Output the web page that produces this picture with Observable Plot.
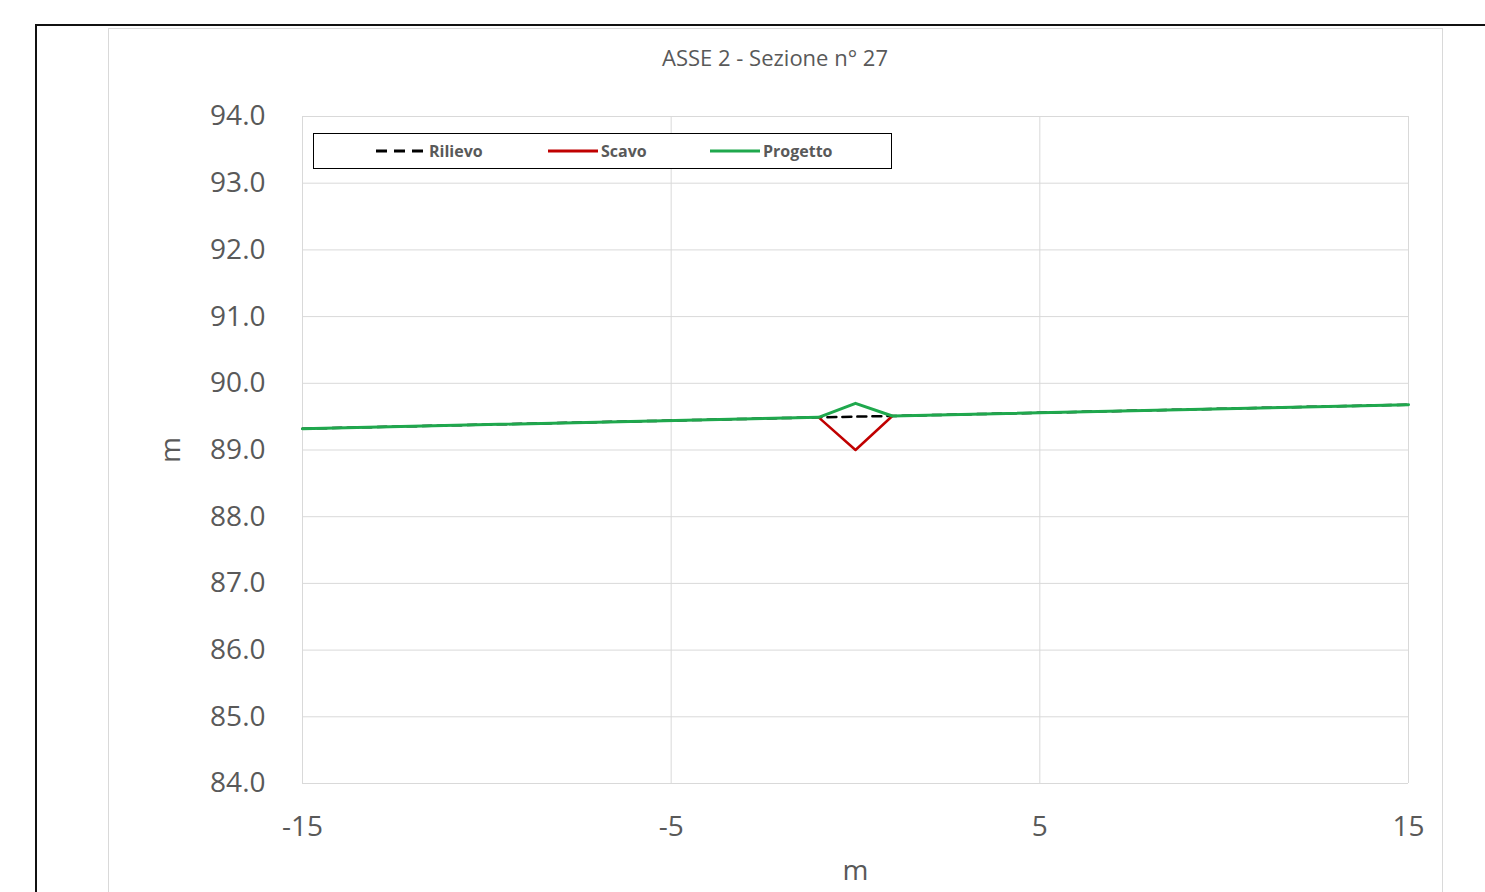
<!DOCTYPE html>
<html>
<head>
<meta charset="utf-8">
<script src="https://cdn.jsdelivr.net/npm/d3@7"></script>
<script src="https://cdn.jsdelivr.net/npm/@observablehq/plot@0.6"></script>
<style>
  html, body { margin: 0; padding: 0; background: #fff; }
  #wrap { position: relative; width: 1485px; height: 892px; overflow: hidden; font-family: "Open Sans", sans-serif; }
  #outer { position: absolute; left: 35px; top: 24px; width: 1500px; height: 900px; border: 2px solid #111; box-sizing: border-box; }
  #inner { position: absolute; left: 108px; top: 28px; width: 1335px; height: 900px; border: 1px solid #d9d9d9; box-sizing: border-box; }
  #chart { position: absolute; left: 0; top: 0; }
  #title { position: absolute; left: 0; width: 1550px; top: 42px; text-align: center; font-size: 22px; color: #595959; }
  #legend { position: absolute; left: 313px; top: 133px; width: 579px; height: 36px; border: 1px solid #000; box-sizing: border-box; background: #fff; }
  .li { position: absolute; top: 0; height: 34px; display: flex; align-items: center; font-size: 16px; font-weight: 700; color: #595959; }
  .li svg { margin-right: 3px; }
</style>
</head>
<body>
<div id="wrap">
  <div id="inner"></div>
  <div id="outer"></div>
  <div id="chart"></div>
  <div id="title"></div>
  <div id="legend"></div>
</div>
<script>
const titleText = "ASSE 2 - Sezione n° 27";
const axisLabelX = "m";
const axisLabelY = "m";
const xTicks = [-15, -5, 5, 15];
const yTicks = [84, 85, 86, 87, 88, 89, 90, 91, 92, 93, 94];

const seriesNames = ["Rilievo", "Scavo", "Progetto"];
const seriesColors = ["#000000", "#c00000", "#1fa84d"];

const rilievoX = [-15, -1, 1, 15];
const rilievoY = [89.32, 89.49, 89.51, 89.68];
const scavoX = [-1, 0, 1];
const scavoY = [89.49, 89.0, 89.51];
const progettoX = [-15, -1, 0, 1, 15];
const progettoY = [89.32, 89.49, 89.70, 89.51, 89.68];

const toRows = (xs, ys) => xs.map((x, i) => ({x, y: ys[i]}));
const rilievo = toRows(rilievoX, rilievoY);
const scavo = toRows(scavoX, scavoY);
const progetto = toRows(progettoX, progettoY);

const plot = Plot.plot({
  width: 1485,
  height: 892,
  marginLeft: 302,
  marginRight: 77,
  marginTop: 116,
  marginBottom: 109,
  style: { fontFamily: "'Open Sans', sans-serif", color: "#595959", background: "transparent" },
  x: { domain: [-15, 15] },
  y: { domain: [84, 94] },
  marks: [
    Plot.gridX(xTicks, { stroke: "#d9d9d9", strokeOpacity: 1, strokeWidth: 1 }),
    Plot.gridY(yTicks, { stroke: "#d9d9d9", strokeOpacity: 1, strokeWidth: 1 }),
    Plot.axisY(yTicks, { tickSize: 0, tickPadding: 37, tickFormat: d3.format(".1f"), fontSize: 28, fill: "#595959",
      label: axisLabelY, labelAnchor: "center", labelOffset: 142, labelArrow: "none" }),
    Plot.axisX(xTicks, { tickSize: 0, tickPadding: 33, tickFormat: d => String(d), fontSize: 28, fill: "#595959",
      label: axisLabelX, labelAnchor: "center", labelOffset: 96, labelArrow: "none" }),
    Plot.line(rilievo, { x: "x", y: "y", stroke: seriesColors[0], strokeWidth: 2.5, strokeDasharray: "9,6" }),
    Plot.line(scavo, { x: "x", y: "y", stroke: seriesColors[1], strokeWidth: 2.5 }),
    Plot.line(progetto, { x: "x", y: "y", stroke: seriesColors[2], strokeWidth: 3 })
  ]
});
document.getElementById("chart").appendChild(plot);
document.getElementById("title").textContent = titleText;

// legend
const legend = document.getElementById("legend");
const legendPos = [62, 234, 396];
seriesNames.forEach((name, i) => {
  const div = document.createElement("div");
  div.className = "li";
  div.style.left = legendPos[i] + "px";
  const dash = i === 0 ? 'stroke-dasharray="11,7"' : "";
  div.innerHTML = `<svg width="50" height="6"><line x1="0" y1="3" x2="50" y2="3" stroke="${seriesColors[i]}" stroke-width="3" ${dash}/></svg><span>${name}</span>`;
  legend.appendChild(div);
});
</script>
</body>
</html>
